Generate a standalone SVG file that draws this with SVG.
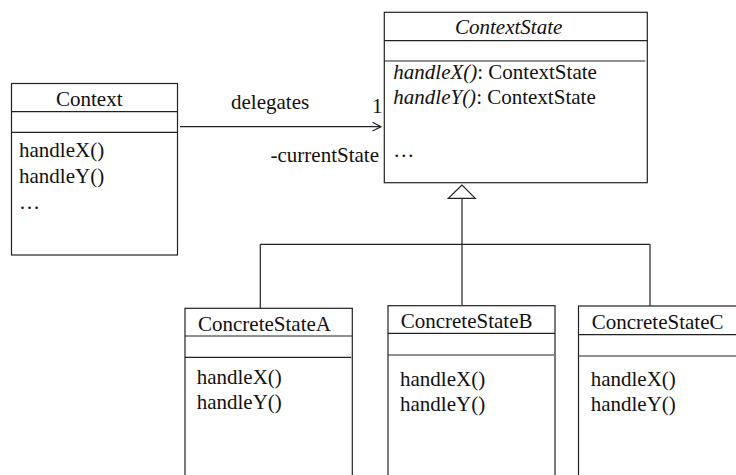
<svg xmlns="http://www.w3.org/2000/svg" width="736" height="475" viewBox="0 0 736 475">
<style>
  .box { fill: #ffffff; stroke: #222222; stroke-width: 1.2; }
  .div { stroke: #222222; stroke-width: 1.2; fill: none; }
  .line { stroke: #222222; stroke-width: 1.2; fill: none; }
  text { font-family: "Liberation Serif", "Times New Roman", serif; font-size: 21px; fill: #111111; }
  .it { font-style: italic; }
</style>
<rect width="736" height="475" fill="#ffffff"/>
<g id="connectors">
  <line class="line" x1="180" y1="126.7" x2="381" y2="126.7"/>
  <polyline class="line" points="372.5,122.3 381,126.7 372.5,131"/>
  <polygon class="line" points="462,185 448.3,198.3 475.3,198.3"/>
  <line class="line" x1="462" y1="198.3" x2="462" y2="244.3"/>
  <line class="line" x1="260.3" y1="244.3" x2="650" y2="244.3"/>
  <line class="line" x1="260.3" y1="244.3" x2="260.3" y2="308.3"/>
  <line class="line" x1="462" y1="244.3" x2="462" y2="305.7"/>
  <line class="line" x1="650" y1="244.3" x2="650" y2="306"/>
  <text x="231" y="109.3">delegates</text>
  <text x="372" y="113.3">1</text>
  <text x="379" y="161.7" text-anchor="end">-currentState</text>
</g>
<g id="Context">
  <rect class="box" x="11.5" y="83.5" width="166" height="171.5"/>
  <line class="div" x1="11.5" y1="111.7" x2="177.5" y2="111.7"/>
  <line class="div" x1="11.5" y1="132.3" x2="177.5" y2="132.3"/>
  <text x="56" y="105.7">Context</text>
  <text x="19" y="157">handleX()</text>
  <text x="19" y="183">handleY()</text>
  <text x="19" y="209">…</text>
</g>
<g id="ContextState">
  <rect class="box" x="384.3" y="12.3" width="263" height="170.4"/>
  <line class="div" x1="384.3" y1="40.7" x2="647.3" y2="40.7"/>
  <line class="div" x1="384.3" y1="61" x2="645.3" y2="61"/>
  <text x="455" y="34" class="it">ContextState</text>
  <text x="393.3" y="79"><tspan class="it">handleX()</tspan>: ContextState</text>
  <text x="393.3" y="104"><tspan class="it">handleY()</tspan>: ContextState</text>
  <text x="393.3" y="157">…</text>
</g>
<g id="ConcreteStateA">
  <rect class="box" x="185" y="308.3" width="167.3" height="180"/>
  <line class="div" x1="185" y1="336" x2="352.3" y2="336"/>
  <line class="div" x1="185" y1="357.3" x2="351.3" y2="357.3"/>
  <text x="198" y="331">ConcreteStateA</text>
  <text x="196.7" y="384">handleX()</text>
  <text x="196.7" y="409">handleY()</text>
</g>
<g id="ConcreteStateB">
  <rect class="box" x="388" y="305.7" width="167" height="180"/>
  <line class="div" x1="388" y1="333.3" x2="555" y2="333.3"/>
  <line class="div" x1="388" y1="355" x2="554" y2="355"/>
  <text x="400.7" y="328.3">ConcreteStateB</text>
  <text x="400" y="386">handleX()</text>
  <text x="400" y="411">handleY()</text>
</g>
<g id="ConcreteStateC">
  <rect class="box" x="578.5" y="306" width="170" height="180"/>
  <line class="div" x1="578.5" y1="334.7" x2="736" y2="334.7"/>
  <line class="div" x1="578.5" y1="356" x2="736" y2="356"/>
  <text x="591.7" y="329">ConcreteStateC</text>
  <text x="590.7" y="386">handleX()</text>
  <text x="590.7" y="411">handleY()</text>
</g>
</svg>
